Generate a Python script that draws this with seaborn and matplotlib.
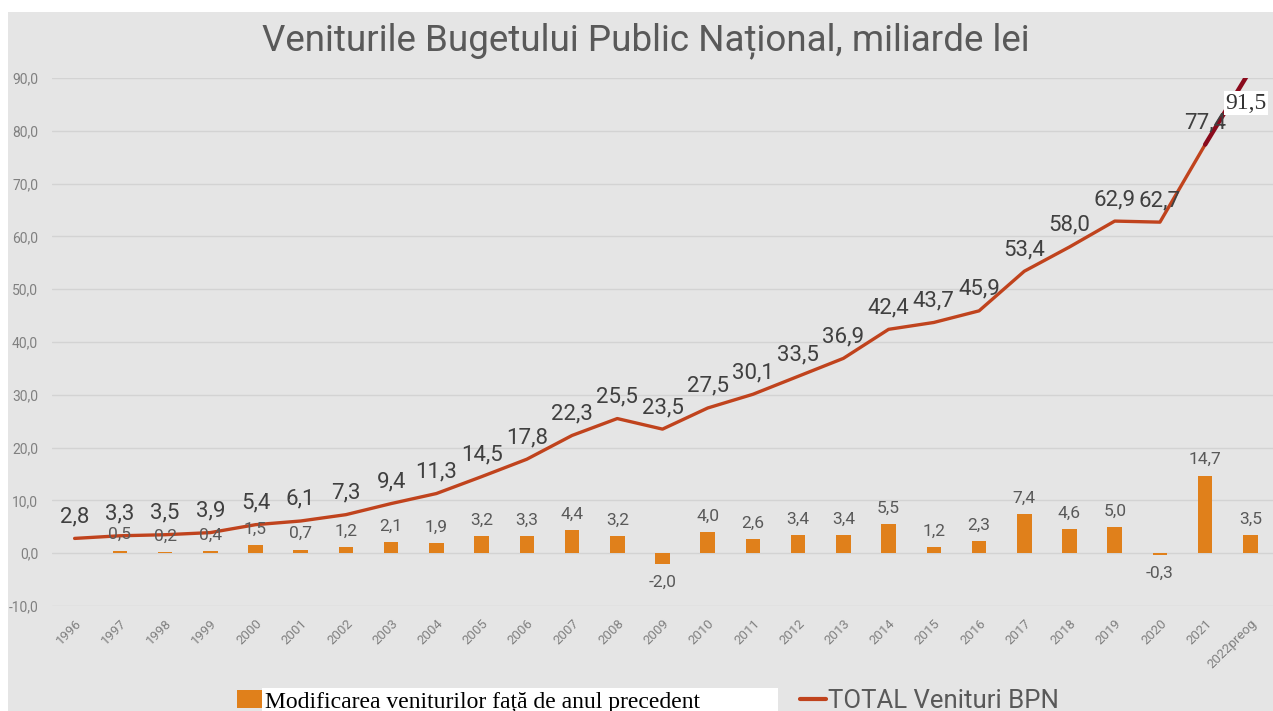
import matplotlib
matplotlib.use("Agg")
import matplotlib.pyplot as plt
from matplotlib.lines import Line2D
from matplotlib.patches import Patch, Rectangle
import numpy as np
import pandas as pd
import seaborn as sns

# data
years = ["1996", "1997", "1998", "1999", "2000", "2001", "2002", "2003", "2004", "2005",
         "2006", "2007", "2008", "2009", "2010", "2011", "2012", "2013", "2014", "2015",
         "2016", "2017", "2018", "2019", "2020", "2021", "2022preog"]
total = [2.8, 3.3, 3.5, 3.9, 5.4, 6.1, 7.3, 9.4, 11.3, 14.5, 17.8, 22.3, 25.5, 23.5,
         27.5, 30.1, 33.5, 36.9, 42.4, 43.7, 45.9, 53.4, 58.0, 62.9, 62.7, 77.4]
forecast = [77.4, 91.5]  # 2021 -> 2022preog
change = [np.nan, 0.5, 0.2, 0.4, 1.5, 0.7, 1.2, 2.1, 1.9, 3.2, 3.3, 4.4, 3.2, -2.0, 4.0,
          2.6, 3.4, 3.4, 5.5, 1.2, 2.3, 7.4, 4.6, 5.0, -0.3, 14.7, 3.5]
y_ticks = [-10, 0, 10, 20, 30, 40, 50, 60, 70, 80, 90]

title = "Veniturile Bugetului Public Național, miliarde lei"
bar_label = "Modificarea veniturilor față de anul precedent"
line_label = "TOTAL Venituri BPN"

BG = "#e5e5e5"
ORANGE = "#e0801b"
LINE = "#c0431d"
DARK = "#8a0a1c"
TXT = "#404040"
GREY = "#808080"

W, H = 1273, 711


def fmt(v: float) -> str:
    return f"{v:.1f}".replace(".", ",")


sns.set_theme(style="white")
plt.rcParams["font.family"] = ["Roboto", "DejaVu Sans"]

fig = plt.figure(figsize=(W / 100, H / 100), dpi=100)
fig.patches.append(Rectangle((8 / W, 0), 1, 1 - 12 / H, transform=fig.transFigure,
                             facecolor=BG, edgecolor="none", zorder=-2))
fig.patches.append(Rectangle((262 / W, 0), 516 / W, 23 / H, transform=fig.transFigure,
                             facecolor="white", edgecolor="none", zorder=-1))

ax = fig.add_axes([52 / W, 1 - 606 / H, 1 - 52 / W, (606 - 78) / H])
ax.set_facecolor(BG)

bars = pd.DataFrame({"year": years, "change": change})
sns.barplot(data=bars, x="year", y="change", order=years, color=ORANGE, saturation=1,
            width=0.32, linewidth=0, ax=ax, zorder=2)

line = pd.DataFrame({"pos": np.arange(len(total)), "total": total})
sns.lineplot(data=line, x="pos", y="total", color=LINE, lw=2.4, ax=ax, zorder=3)
fc = pd.DataFrame({"pos": [len(total) - 1, len(years) - 1], "total": forecast})
sns.lineplot(data=fc, x="pos", y="total", color=DARK, lw=3.2, ax=ax, zorder=3)

for i, v in enumerate(total):
    ax.annotate(fmt(v), (i, v), xytext=(0, 8), textcoords="offset points", ha="center",
                va="bottom", fontsize=16, color=TXT, zorder=4)
for i, v in enumerate(change):
    if np.isnan(v):
        continue
    ax.annotate(fmt(v), (i, v), xytext=(0, 6 if v >= 0 else -8), textcoords="offset points",
                ha="center", va="bottom" if v >= 0 else "top", fontsize=12.5, color="#595959",
                zorder=4)
ax.annotate(fmt(forecast[-1]), (len(years) - 1, forecast[-1]), xytext=(-3, -24),
            textcoords="offset points", ha="center", va="center", fontsize=17,
            family="Liberation Serif", color="#333333", annotation_clip=False, zorder=5,
            bbox=dict(facecolor="white", edgecolor="none", pad=1))

ax.set_xlim(-0.5, len(years) - 0.5)
ax.set_ylim(-10, 90)
ax.set_yticks(y_ticks)
ax.set_yticklabels([fmt(t) for t in y_ticks])
ax.set_xticks(range(len(years)))
ax.set_xticklabels(years, rotation=45, ha="right", rotation_mode="anchor")
ax.tick_params(axis="x", length=0, pad=8, labelsize=9.5, labelcolor=GREY)
ax.tick_params(axis="y", length=0, pad=10, labelsize=10, labelcolor=GREY)
ax.grid(axis="y", color="#d3d3d3", lw=1)
ax.set_axisbelow(True)
ax.set_xlabel("")
ax.set_ylabel("")
for s in ax.spines.values():
    s.set_visible(False)

fig.text(0.507, 1 - 41 / H, title, ha="center", va="center", fontsize=26.5, color="#595959")

handles = [Patch(facecolor=ORANGE, edgecolor="none"), Line2D([], [], color=LINE, lw=3)]
leg = fig.legend(handles, [bar_label, line_label], loc="lower center",
                 bbox_to_anchor=(648 / W, -0.036), ncol=2, frameon=False, fontsize=18.5,
                 handlelength=1.0, handletextpad=0.1, columnspacing=3.9)
leg.get_texts()[0].set_fontfamily("Liberation Serif")
leg.get_texts()[0].set_color("black")
leg.get_texts()[0].set_fontsize(17)
leg.get_texts()[1].set_color("#595959")

fig.savefig("out.png", dpi=100)
plt.close(fig)
